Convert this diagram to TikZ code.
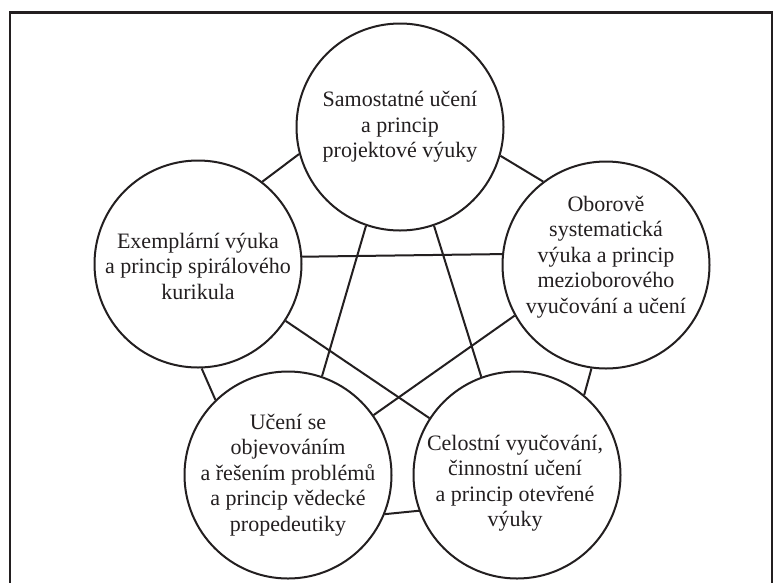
\documentclass[tikz,border=0pt]{standalone}
\usepackage{fontspec}
\setmainfont{Liberation Serif}
\definecolor{ink}{RGB}{35,31,32}
\begin{document}
\begin{tikzpicture}[x=1pt,y=-1pt,
  circ/.style={draw=ink,line width=2pt,circle,minimum size=207pt,inner sep=0pt},
  txt/.style={align=center,text=ink,font=\fontsize{22}{25.5}\selectfont,inner sep=0pt},
  conn/.style={draw=ink,line width=2pt},
  frame/.style={draw=ink,line width=2.6pt,line join=miter}]
\useasboundingbox (0,0) rectangle (781,582);
\fill[white] (0,0) rectangle (781,582);
\draw[frame] (10,590) -- (10,12.5) -- (772,12.5) -- (772,590);

\node[circ] (T)  at (400,127) {};
\node[circ] (L)  at (198,264) {};
\node[circ] (R)  at (606,265) {};
\node[circ] (BL) at (288,475) {};
\node[circ] (BR) at (517,475) {};

\node[txt] (tT)  at (T)  {Samostatné učení\\a princip\\projektové výuky};
\node[txt] (tL)  at (L)  [yshift=-2pt] {Exemplární výuka\\a princip spirálového\\kurikula};
\node[txt] (tR)  at (R)  [yshift=8pt] {Oborově\\systematická\\výuka a princip\\mezioborového\\vyučování a učení};
\node[txt] (tBL) at (BL) {Učení se\\objevováním\\a řešením problémů\\a princip vědecké\\propedeutiky};
\node[txt] (tBR) at (BR) [yshift=-8pt,xshift=-2pt] {Celostní vyučování,\\činnostní učení\\a princip otevřené\\výuky};

\draw[conn] (T.195.4) -- (L.52.9);
\draw[conn] (T.344.6) -- (R.127.6);
\draw[conn] (L.4.9) -- (R.174.5);
\draw[conn] (T.251.9) -- (BL.71.4);
\draw[conn] (T.289.1) -- (BR.110.2);
\draw[conn] (L.327.2) -- (BR.147.4);
\draw[conn] (R.209.7) -- (BL.35.2);
\draw[conn] (L.272.8) -- (BL.134.2);
\draw[conn] (R.262.3) -- (BR.50.8);
\draw[conn] (BL.338.4) -- (BR.200.8);
\end{tikzpicture}
\end{document}
